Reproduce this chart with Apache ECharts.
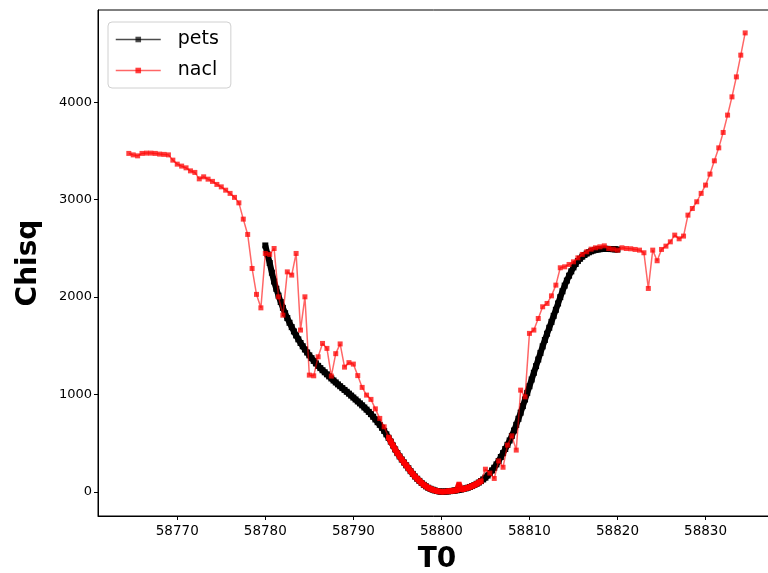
<!DOCTYPE html>
<html><head><meta charset="utf-8">
<script src="https://cdn.jsdelivr.net/npm/echarts@6/dist/echarts.min.js"></script>
<style>html,body{margin:0;padding:0;background:#fff}#c{width:768px;height:573px}</style>
</head><body><div id="c"></div>
<script>
// ---- data ----
const xTicks = [58770, 58780, 58790, 58800, 58810, 58820, 58830];
const yTicks = [0, 1000, 2000, 3000, 4000];

// pets: T0 sampled every 0.25 d starting at 58780
const petsStart = 58780, petsStep = 0.25;
const petsChisq = [
  2530,2440,2350,2250,2160,2085,2015,1950,1890,1835,
  1785,1737,1692,1648,1607,1567,1530,1496,1463,1432,
  1403,1374,1346,1320,1295,1272,1250,1229,1208,1187,
  1166,1145,1125,1105,1086,1067,1048,1029,1010,990,
  970,950,930,910,890,868,846,823,800,773,
  745,717,690,660,628,593,557,518,478,438,
  400,366,334,304,275,245,215,187,160,137,
  115,94,75,59,45,34,25,17,11,7,
  5,5,6,8,10,13,16,19,23,27,
  32,38,45,53,62,73,85,98,113,130,
  148,170,195,222,250,284,320,360,400,442,
  485,530,577,632,690,752,815,882,950,1018,
  1086,1155,1224,1292,1360,1428,1495,1560,1625,1686,
  1746,1808,1870,1935,2000,2060,2118,2170,2220,2264,
  2305,2340,2370,2394,2415,2432,2447,2460,2470,2478,
  2485,2489,2492,2494,2495,2495,2494,2493,2492,2490,
  2488
];

// nacl: coarse grid (0.5 d) left part
const naclLeftStart = 58764.5, naclLeftStep = 0.5;
const naclLeftChisq = [
  3474,3459,3449,3474,3477,3477,3474,3467,3464,3459,
  3405,3364,3344,3326,3295,3279,3213,3234,3210,3187,
  3156,3131,3097,3064,3023,2967,2800,2643,2294,2028,
  1890,2448,2438,2499,2003,1815,2259,2226,2448,1662,
  2003,1200,1193,1388,1525,1474,1190,1420,1520,1282,
  1328,1313,1195,1074,995,951,854,756,670
];
// nacl: fine grid (0.25 d) around minimum
const naclMidStart = 58794, naclMidStep = 0.25;
const naclMidChisq = [
  562,518,478,438,400,366,334,304,275,245,
  215,187,160,137,115,94,75,59,45,34,
  25,17,11,7,5,5,6,8,10,13,
  16,19,80,27,32,38,45,53,62,73,
  85,98,113
];
// nacl: coarse grid (0.5 d) right part
const naclRightStart = 58805, naclRightStep = 0.5;
const naclRightChisq = [
  235,195,140,320,255,482,577,431,1046,977,
  1628,1662,1781,1901,1935,2013,2123,2301,2311,2335,
  2362,2403,2438,2465,2492,2506,2516,2526,2499,2492,
  2482,2506,2499,2496,2489,2482,2455,2089,2482,2373,
  2489,2523,2567,2636,2598,2626,2841,2909,2978,3064,
  3149,3262,3398,3531,3689,3867,4054,4259,4482,4710
];

// ---- build ----
const toPairs = (start, step, arr) => arr.map((v, i) => [+(start + i * step).toFixed(2), v]);
const petsData = toPairs(petsStart, petsStep, petsChisq);
const naclMidData = toPairs(naclMidStart, naclMidStep, naclMidChisq);
const naclData = toPairs(naclLeftStart, naclLeftStep, naclLeftChisq)
  .concat(naclMidData)
  .concat(toPairs(naclRightStart, naclRightStep, naclRightChisq));

const FONT = 'DejaVu Sans';
const chart = echarts.init(document.getElementById('c'), null, {renderer: 'canvas'});
chart.setOption({
  animation: false,
  backgroundColor: '#fff',
  grid: {left: 98, top: 10, width: 678, height: 506, show: true, borderColor: '#000', borderWidth: 1,
         containLabel: false, outerBoundsMode: 'none'},
  legend: {
    orient: 'vertical', left: 108, top: 22,
    padding: [8, 12, 8, 7], itemGap: 12, itemWidth: 45, itemHeight: 7,
    borderColor: '#d0d0d0', borderWidth: 1, borderRadius: 4, backgroundColor: 'rgba(255,255,255,0.8)',
    textStyle: {fontFamily: FONT, fontSize: 19, color: '#000', padding: [0, 0, 0, 12]},
    lineStyle: {width: 1.5},
    data: [
      {name: 'pets', itemStyle: {color: 'rgba(0,0,0,0.7)'}, lineStyle: {color: 'rgba(0,0,0,0.7)', width: 1.5}},
      {name: 'nacl', itemStyle: {color: 'rgba(255,0,0,0.75)'}, lineStyle: {color: 'rgba(255,0,0,0.6)', width: 1.5}}
    ]
  },
  xAxis: {
    type: 'value', min: 58761, max: 58838,
    name: 'T0', nameLocation: 'middle', nameGap: 30,
    nameTextStyle: {fontFamily: FONT, fontWeight: 'bold', fontSize: 28, color: '#000'},
    axisLine: {onZero: false, lineStyle: {color: '#000', width: 1}},
    axisTick: {customValues: xTicks, length: 4, lineStyle: {color: '#000'}},
    axisLabel: {customValues: xTicks, fontFamily: FONT, fontSize: 13.5, color: '#000', margin: 8,
                formatter: v => String(v)},
    splitLine: {show: false}
  },
  yAxis: {
    type: 'value', min: -245, max: 4945,
    name: 'Chisq', nameLocation: 'middle', nameGap: 55, nameRotate: 90,
    nameTextStyle: {fontFamily: FONT, fontWeight: 'bold', fontSize: 28, color: '#000'},
    axisLine: {show: true, onZero: false, lineStyle: {color: '#000', width: 1}},
    axisTick: {show: true, customValues: yTicks, length: 4, lineStyle: {color: '#000'}},
    axisLabel: {customValues: yTicks, fontFamily: FONT, fontSize: 13, color: '#000', margin: 6,
                formatter: v => String(v)},
    splitLine: {show: false}
  },
  series: [
    {name: 'pets', type: 'line', data: petsData, symbol: 'rect', symbolSize: 6, showAllSymbol: true,
     itemStyle: {color: '#000'}, lineStyle: {color: '#000', width: 6}, emphasis: {disabled: true}, z: 2},
    {name: 'nacl', type: 'line', data: naclData, symbol: 'rect', symbolSize: 5, showAllSymbol: true,
     itemStyle: {color: 'rgba(255,0,0,0.75)'}, lineStyle: {color: 'rgba(255,0,0,0.6)', width: 1.5},
     emphasis: {disabled: true}, z: 4},
    {name: 'nacl', type: 'line', data: naclMidData, symbol: 'rect', symbolSize: 5,
     itemStyle: {color: 'rgba(255,0,0,0.75)'},
     lineStyle: {color: 'rgba(240,0,0,0.95)', width: 6}, emphasis: {disabled: true}, z: 3}
  ]
});
</script>
</body></html>
